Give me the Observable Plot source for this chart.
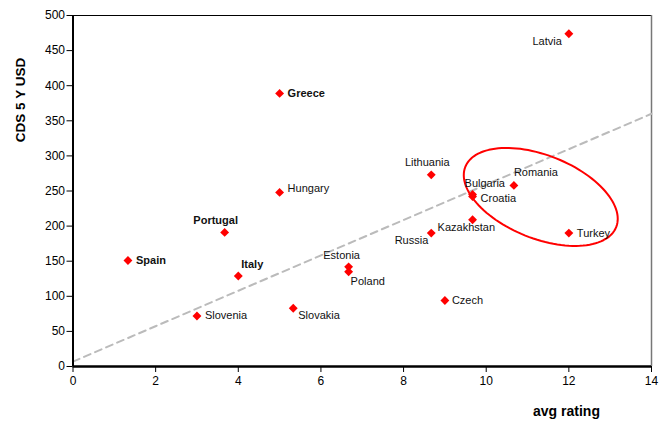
<!DOCTYPE html>
<html><head><meta charset="utf-8">
<script src="https://cdn.jsdelivr.net/npm/d3@7"></script>
<script src="https://cdn.jsdelivr.net/npm/@observablehq/plot@0.6"></script>
<style>body{margin:0;background:#fff;overflow:hidden}</style>
</head><body><div id="chart"></div>
<script>
// ---- data ----
const countries = ["Latvia","Greece","Hungary","Portugal","Spain","Italy","Slovenia","Slovakia","Estonia","Poland","Lithuania","Bulgaria","Croatia","Romania","Kazakhstan","Russia","Turkey","Czech"];
const avgRating = [12.0, 5.0, 5.0, 3.67, 1.33, 4.0, 3.0, 5.33, 6.67, 6.67, 8.67, 9.67, 9.67, 10.67, 9.67, 8.67, 12.0, 9.0];
const cds5y    = [474, 389, 248, 191, 151, 129, 72, 83, 142, 135, 273, 245, 242, 258, 209, 190, 190, 94];
const boldCountries = ["Greece","Portugal","Spain","Italy"];
const xTicks = [0, 2, 4, 6, 8, 10, 12, 14];
const yTicks = [0, 50, 100, 150, 200, 250, 300, 350, 400, 450, 500];
const trendX = [0, 14];
const trendY = [7, 360];
// highlighted group ellipse (data units)
const ellipseCenter = [11.32, 241.5];
const ellipseAxisA = [1.825, -43.0];
const ellipseAxisB = [0.374, 55.0];

// label placement (style, not data): [anchor, dx, dy]
const labelPlacement = {
  Latvia: ["end", -7, 8], Greece: ["start", 8, 0], Hungary: ["start", 8, -4],
  Portugal: ["middle", -9, -12], Spain: ["start", 8, 0], Italy: ["start", 3, -11],
  Slovenia: ["start", 8, 0], Slovakia: ["start", 5, 7], Estonia: ["middle", -7, -11],
  Poland: ["start", 2, 10], Lithuania: ["middle", -4, -12], Bulgaria: ["start", -8, -11],
  Croatia: ["start", 8, 2], Romania: ["start", 0, -13], Kazakhstan: ["start", -35, 8],
  Russia: ["end", -3, 7], Turkey: ["start", 8, 0], Czech: ["start", 7, 0]
};

const points = countries.map((c, i) => ({country: c, x: avgRating[i], y: cds5y[i]}));
const trend = trendX.map((x, i) => ({x, y: trendY[i]}));
const ellipse = d3.range(0, 361, 3).map(deg => {
  const t = deg * Math.PI / 180;
  return {
    x: ellipseCenter[0] + ellipseAxisA[0] * Math.cos(t) + ellipseAxisB[0] * Math.sin(t),
    y: ellipseCenter[1] + ellipseAxisA[1] * Math.cos(t) + ellipseAxisB[1] * Math.sin(t)
  };
});

const font = "'Liberation Sans', Arial, sans-serif";
const labelMarks = points.map(p => {
  const [anchor, dx, dy] = labelPlacement[p.country];
  return Plot.text([p], {x: "x", y: "y", text: "country", textAnchor: anchor, dx, dy,
    fontSize: 11, fill: "#111",
    fontWeight: boldCountries.includes(p.country) ? "bold" : "normal"});
});

const chart = Plot.plot({
  width: 667, height: 421,
  marginLeft: 72.5, marginRight: 16, marginTop: 15, marginBottom: 55,
  style: {fontFamily: font, fontSize: "12px", color: "#000", background: "#fff"},
  x: {domain: [0, 14]},
  y: {domain: [0, 500]},
  marks: [
    Plot.axisX({ticks: xTicks, tickSize: 6, tickPadding: 4, label: null, fontSize: 12, stroke: "#000"}),
    Plot.axisY({ticks: yTicks, tickSize: 6, tickPadding: 2, label: null, fontSize: 12, stroke: "#000"}),
    Plot.ruleY([500], {stroke: "#000", strokeWidth: 1}),
    Plot.ruleX([14], {stroke: "#777", strokeWidth: 1.5}),
    Plot.line(trend, {x: "x", y: "y", stroke: "#bbbbbb", strokeWidth: 2, strokeDasharray: "7,5"}),
    Plot.line(ellipse, {x: "x", y: "y", stroke: "#ff0000", strokeWidth: 2, curve: "linear-closed", fill: "none"}),
    Plot.ruleY([0], {stroke: "#000", strokeWidth: 2.5}),
    Plot.ruleX([0], {stroke: "#000", strokeWidth: 2}),
    Plot.dot(points, {x: "x", y: "y", symbol: "diamond2", r: 4, fill: "#ff0000", stroke: "none"}),
    ...labelMarks
  ]
});

const svg = d3.select(chart);
svg.append("text").attr("x", 566.5).attr("y", 416).attr("text-anchor", "middle")
  .attr("font-family", font).attr("font-size", 14).attr("font-weight", "bold").attr("fill", "#000")
  .text("avg rating");
svg.append("text").attr("transform", "translate(25,100) rotate(-90)").attr("text-anchor", "middle")
  .attr("font-family", font).attr("font-size", 13.5).attr("font-weight", "bold").attr("fill", "#000")
  .text("CDS 5 Y USD");

document.getElementById("chart").appendChild(chart);
</script>
</body></html>
